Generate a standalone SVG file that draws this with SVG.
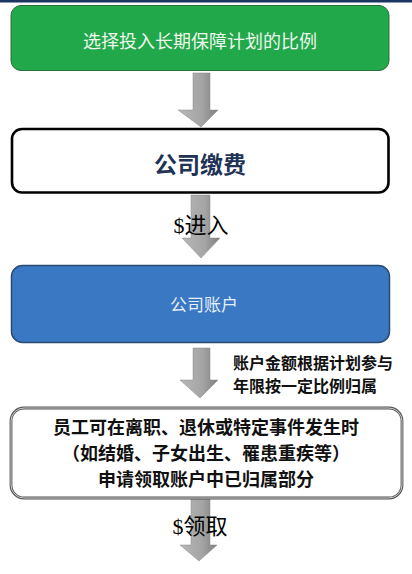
<svg xmlns="http://www.w3.org/2000/svg" width="412" height="574" viewBox="0 0 412 574">
<defs>
<linearGradient id="ag" x1="0" y1="0" x2="1" y2="0">
<stop offset="0" stop-color="#b8b8b8"/>
<stop offset="0.6" stop-color="#a4a4a4"/>
<stop offset="1" stop-color="#7e7e7e"/>
</linearGradient>
<style>
.arrow{fill:url(#ag);stroke:#8a8a8a;stroke-width:0.5}
.cjk{font-family:"Noto Sans CJK SC","Noto Sans",sans-serif}
.ser{font-family:"Liberation Serif","Noto Sans CJK SC",serif}
</style>
</defs>
<rect width="412" height="574" fill="#ffffff"/>
<rect x="0" y="0" width="412" height="2.5" fill="#1b3561"/>
<g id="connectors">
<path class="arrow" d="M193,73 H210 V110 H218 L201,127 L178,110 H193 Z"/>
<path class="arrow" d="M191,195 H210 V238 H220 L201,258 L182,238 H191 Z"/>
<path class="arrow" d="M193,348 H210 V380 H218 L200,398 L180,380 H193 Z"/>
<path class="arrow" d="M191,499 H210 V545 H217 L199,561 L180,545 H191 Z"/>
</g>
<g id="n1">
<rect x="11" y="5.5" width="378" height="65" rx="10" fill="#21a84a" stroke="#2b6e3a" stroke-width="1"/>
<text x="200" y="48" text-anchor="middle" class="cjk" font-size="18" fill="#eef6ee">选择投入长期保障计划的比例</text>
</g>
<g id="n2">
<rect x="12" y="129" width="376.5" height="63.5" rx="10" fill="#ffffff" stroke="#000000" stroke-width="2.6"/>
<text x="200" y="173" text-anchor="middle" class="cjk" font-size="23" font-weight="bold" fill="#1f3357">公司缴费</text>
</g>
<text x="201" y="233" text-anchor="middle" class="ser" font-size="22" fill="#000000">$进入</text>
<g id="n3">
<rect x="11.5" y="265.5" width="378" height="77" rx="11" fill="#3a78c4" stroke="#2a4a72" stroke-width="1.5"/>
<text x="204" y="311" text-anchor="middle" class="cjk" font-size="17" fill="#e6eef8">公司账户</text>
</g>
<g class="cjk" font-size="16" font-weight="bold" fill="#111111">
<text x="233" y="368.5">账户金额根据计划参与</text>
<text x="233" y="392">年限按一定比例归属</text>
</g>
<g id="n4">
<rect x="11" y="408" width="391" height="90" rx="13" fill="#ffffff" stroke="#555555" stroke-width="2.8"/>
<rect x="11" y="408" width="391" height="90" rx="13" fill="none" stroke="#e8e8e8" stroke-width="0.8"/>
<g class="cjk" font-size="18" font-weight="bold" fill="#111111" text-anchor="middle">
<text x="206" y="434">员工可在离职、退休或特定事件发生时</text>
<text x="206" y="460">（如结婚、子女出生、罹患重疾等）</text>
<text x="206" y="486">申请领取账户中已归属部分</text>
</g>
</g>
<text x="200" y="534" text-anchor="middle" class="ser" font-size="22" fill="#000000">$领取</text>
</svg>
